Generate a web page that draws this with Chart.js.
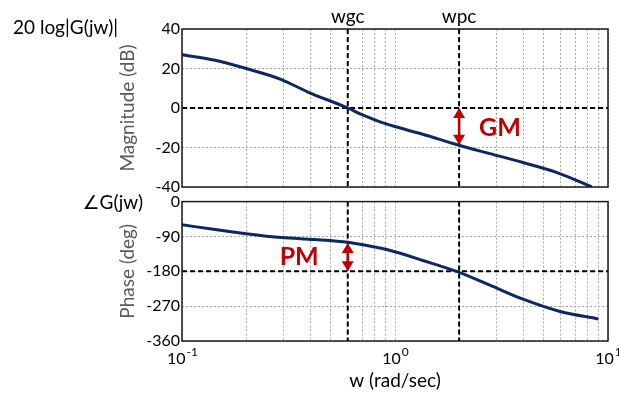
<!DOCTYPE html>
<html>
<head>
<meta charset="utf-8">
<title>Bode plot - gain and phase margin</title>
<script src="https://cdn.jsdelivr.net/npm/chart.js@4.4.1/dist/chart.umd.min.js"></script>
<style>
  html, body { margin: 0; padding: 0; background: #fff; }
  #wrap { position: relative; width: 619px; height: 393px; overflow: hidden; }
  .box { position: absolute; left: 0; width: 619px; }
  #magBox { top: 0; height: 200px; }
  #phaseBox { top: 190px; height: 203px; }
</style>
</head>
<body>
<div id="wrap">
  <div class="box" id="magBox"><canvas id="magChart" width="619" height="200"></canvas></div>
  <div class="box" id="phaseBox"><canvas id="phaseChart" width="619" height="203"></canvas></div>
</div>
<script>
// values (w in rad/sec)
const magFreq = [0.1, 0.143, 0.2, 0.293, 0.39, 0.6, 0.7, 0.85, 1.13, 1.35, 1.96, 2.79, 3.99, 5.73, 8.4];
const magDb = [27.0, 24.2, 20.0, 14.4, 8.1, 0, -3.4, -7.0, -11.0, -13.3, -18.6, -23.1, -27.6, -32.6, -40];

const phaseFreq = [0.1, 0.143, 0.2, 0.293, 0.42, 0.6, 0.73, 0.96, 1.35, 1.96, 2.79, 3.99, 5.9, 9.0];
const phaseDeg = [-60, -72, -83, -93, -98, -105, -113, -127, -152, -181, -216, -252, -283, -303];

// grid lines on the log axis and the labelled decades
const xGrid = [0.1, 0.2, 0.3, 0.4, 0.5, 0.6, 0.7, 0.8, 0.9, 1, 2, 3, 4, 5, 6, 7, 8, 9, 10];
const xLabelValues = [0.1, 1, 10];
const xLabelExps = ['-1', '0', '1'];

const wgc = 0.6;      // gain crossover
const wpc = 2;        // phase crossover
const gmDb = -18.6;   // magnitude at wpc
const pmDeg = -107;   // phase at wgc

const FONT = 'Lato, "Open Sans", "DejaVu Sans", sans-serif';
const TEXT_SIZE = 19;
const TICK_SIZE = 16;
const lineColor = '#0c2862';
const red = '#c00000';
const gridColor = '#a6a6a6';

function dashed(ctx, x1, y1, x2, y2) {
    ctx.beginPath();
    ctx.moveTo(x1, y1);
    ctx.lineTo(x2, y2);
    ctx.stroke();
}

function arrow(ctx, x, yTop, yBot) {
    const hw = 6, hh = 10;
    ctx.save();
    ctx.strokeStyle = red;
    ctx.fillStyle = red;
    ctx.lineWidth = 2.5;
    ctx.setLineDash([]);
    ctx.beginPath();
    ctx.moveTo(x, yTop + hh - 2);
    ctx.lineTo(x, yBot - hh + 2);
    ctx.stroke();
    ctx.beginPath();
    ctx.moveTo(x, yTop);
    ctx.lineTo(x - hw, yTop + hh);
    ctx.lineTo(x + hw, yTop + hh);
    ctx.closePath();
    ctx.fill();
    ctx.beginPath();
    ctx.moveTo(x, yBot);
    ctx.lineTo(x - hw, yBot - hh);
    ctx.lineTo(x + hw, yBot - hh);
    ctx.closePath();
    ctx.fill();
    ctx.restore();
}

function frame(ctx, a) {
    ctx.save();
    ctx.setLineDash([]);
    ctx.strokeStyle = '#1a1a1a';
    ctx.lineWidth = 1.5;
    ctx.strokeRect(a.left, a.top, a.right - a.left, a.bottom - a.top);
    ctx.restore();
}

// reference lines: 0 dB / -180 deg and the two crossover frequencies
function refLines(chart, level) {
    const {ctx, chartArea: a, scales: {x, y}} = chart;
    ctx.save();
    ctx.strokeStyle = '#000';
    ctx.lineWidth = 2;
    ctx.setLineDash([5, 3]);
    const yl = y.getPixelForValue(level);
    dashed(ctx, a.left, yl, a.right, yl);
    [wgc, wpc].forEach(w => {
        const px = x.getPixelForValue(w);
        dashed(ctx, px, a.top, px, a.bottom);
    });
    ctx.restore();
}

function xAxis(showTicks, titleText) {
    return {
        type: 'logarithmic',
        min: 0.1,
        max: 10,
        afterBuildTicks: axis => { axis.ticks = xGrid.map(v => ({ value: v })); },
        afterFit: axis => { axis.height = showTicks ? 52 : 0; },
        grid: { color: gridColor, lineWidth: 1, drawTicks: false },
        border: { display: false, dash: [2, 2] },
        ticks: { display: showTicks, autoSkip: false, callback: () => '' },
        title: {
            display: !!titleText,
            text: titleText,
            color: '#000',
            font: { family: FONT, size: TEXT_SIZE },
            padding: { top: 0, bottom: 1 }
        }
    };
}

function yAxis(min, max, step, titleText) {
    return {
        min: min,
        max: max,
        afterFit: axis => { axis.width = 182; },
        grid: { color: gridColor, lineWidth: 1, drawTicks: false },
        border: { display: false, dash: [2, 2] },
        ticks: {
            stepSize: step,
            padding: 2,
            color: '#000',
            font: { family: FONT, size: TICK_SIZE }
        },
        title: {
            display: true,
            text: titleText,
            color: '#595959',
            font: { family: FONT, size: TEXT_SIZE },
            padding: { top: 116, bottom: 0 }
        }
    };
}

const magExtras = {
    id: 'magExtras',
    beforeDatasetsDraw(chart) { refLines(chart, 0); },
    afterDraw(chart) {
        const {ctx, chartArea: a, scales: {x, y}} = chart;
        frame(ctx, a);
        const px = x.getPixelForValue(wpc);
        arrow(ctx, px, y.getPixelForValue(0), y.getPixelForValue(gmDb));
        ctx.save();
        ctx.fillStyle = red;
        ctx.font = 'bold 25px ' + FONT;
        ctx.textAlign = 'left';
        ctx.textBaseline = 'middle';
        ctx.fillText('GM', px + 20, 128);
        ctx.fillStyle = '#000';
        ctx.font = TEXT_SIZE + 'px ' + FONT;
        ctx.textAlign = 'center';
        ctx.textBaseline = 'alphabetic';
        ctx.fillText('wgc', x.getPixelForValue(wgc), 23);
        ctx.fillText('wpc', px, 23);
        ctx.textAlign = 'left';
        ctx.fillText('20 log|G(jw)|', 13, 34);
        ctx.restore();
    }
};

const phaseExtras = {
    id: 'phaseExtras',
    beforeDatasetsDraw(chart) { refLines(chart, -180); },
    afterDraw(chart) {
        const {ctx, chartArea: a, scales: {x, y}} = chart;
        frame(ctx, a);
        const px = x.getPixelForValue(wgc);
        arrow(ctx, px, y.getPixelForValue(pmDeg), y.getPixelForValue(-180));
        ctx.save();
        ctx.fillStyle = red;
        ctx.font = 'bold 25px ' + FONT;
        ctx.textAlign = 'right';
        ctx.textBaseline = 'middle';
        ctx.fillText('PM', px - 29, 257 - 190);
        ctx.fillStyle = '#000';
        ctx.font = TEXT_SIZE + 'px ' + FONT;
        ctx.textBaseline = 'alphabetic';
        ctx.fillText('\u2220G(jw)', 143, 19);
        // decade labels 10^n
        ctx.textAlign = 'left';
        xLabelValues.forEach((v, i) => {
            ctx.font = TICK_SIZE + 'px ' + FONT;
            const wBase = ctx.measureText('10').width;
            ctx.font = '12px ' + FONT;
            const wExp = ctx.measureText(xLabelExps[i]).width;
            const left = x.getPixelForValue(v) - (wBase + wExp) / 2;
            ctx.font = TICK_SIZE + 'px ' + FONT;
            ctx.fillText('10', left, a.bottom + 23);
            ctx.font = '12px ' + FONT;
            ctx.fillText(xLabelExps[i], left + wBase + 1, a.bottom + 15);
        });
        ctx.restore();
    }
};

const lineStyle = {
    borderColor: lineColor,
    borderWidth: 3,
    pointRadius: 0,
    fill: false,
    cubicInterpolationMode: 'monotone'
};

new Chart(document.getElementById('magChart'), {
    type: 'line',
    data: {
        datasets: [Object.assign({
            label: 'Magnitude',
            data: magFreq.map((w, i) => ({ x: w, y: magDb[i] }))
        }, lineStyle)]
    },
    options: {
        responsive: false,
        animation: false,
        layout: { padding: { top: 29, right: 11, bottom: 13, left: 0 } },
        plugins: { legend: { display: false }, tooltip: { enabled: false } },
        scales: {
            x: xAxis(false, ''),
            y: yAxis(-40, 40, 20, 'Magnitude (dB)')
        }
    },
    plugins: [magExtras]
});

new Chart(document.getElementById('phaseChart'), {
    type: 'line',
    data: {
        datasets: [Object.assign({
            label: 'Phase',
            data: phaseFreq.map((w, i) => ({ x: w, y: phaseDeg[i] }))
        }, lineStyle)]
    },
    options: {
        responsive: false,
        animation: false,
        layout: { padding: { top: 11, right: 11, bottom: 0, left: 0 } },
        plugins: { legend: { display: false }, tooltip: { enabled: false } },
        scales: {
            x: xAxis(true, 'w (rad/sec)'),
            y: yAxis(-360, 0, 90, 'Phase (deg)')
        }
    },
    plugins: [phaseExtras]
});
</script>
</body>
</html>
